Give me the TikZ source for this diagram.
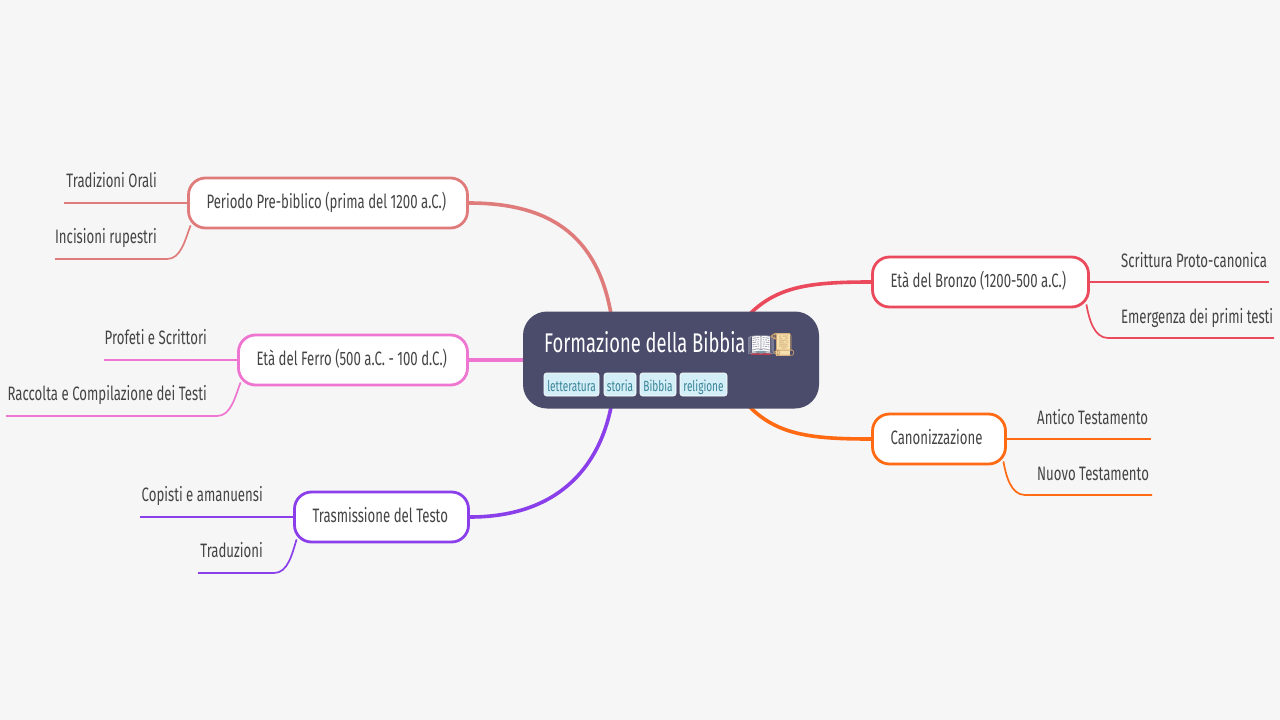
\documentclass[tikz,border=0pt]{standalone}
\usepackage{fontspec}
\setmainfont[FakeStretch=0.68]{Fira Sans}
\newfontfamily\emojifont{Noto Emoji}
\usetikzlibrary{calc}
\pgfdeclarelayer{back}
\pgfdeclarelayer{paper}
\pgfsetlayers{paper,back,main}
\definecolor{bgc}{HTML}{F6F6F6}
\definecolor{rootc}{HTML}{4B4C6B}
\definecolor{tagfill}{HTML}{D3EEF6}
\definecolor{tagtext}{HTML}{3A8499}
\definecolor{txt}{HTML}{444444}
\definecolor{cpre}{HTML}{E07B7B}
\definecolor{cfer}{HTML}{EE75D0}
\definecolor{ctra}{HTML}{8A3FEA}
\definecolor{cbro}{HTML}{EA4A5C}
\definecolor{ccan}{HTML}{FF6A13}
\definecolor{scrollf}{HTML}{F6E0AE}
\definecolor{scrolll}{HTML}{C9A06A}
\definecolor{bookl}{HTML}{8C8CA0}
\tikzset{
  branch/.style={draw=#1,line width=2.8pt,fill=white,rounded corners=17pt,inner xsep=18pt,inner ysep=0pt,align=flush left,text=txt,font=\fontsize{19.4}{22}\selectfont,text height=13pt,text depth=3pt,minimum height=50pt},
  leaf/.style={inner sep=0pt,text=txt,font=\fontsize{19.4}{22}\selectfont},
  tagbox/.style={fill=tagfill,draw=white,line width=.6pt,rounded corners=2.5pt,inner sep=0pt,text=tagtext,font=\fontsize{14.8}{16}\selectfont,text height=16pt,text depth=3pt,minimum height=23pt},
  mainl/.style={draw=#1,line width=3.6pt},
  subl/.style={draw=#1,line width=1.7pt},
  emo/.style={inner sep=0pt,font=\fontsize{22}{24}\emojifont},
}
\begin{document}
\begin{tikzpicture}[x=1pt,y=-1pt]
\useasboundingbox (0,0) rectangle (1280,720);
\begin{pgfonlayer}{paper}
\fill[bgc] (0,0) rectangle (1280,720);
\end{pgfonlayer}
% branch nodes
\node[branch=cpre,text width=243pt] (pre) at (328,203) {\mbox{Periodo Pre-biblico (prima del 1200 a.C.)}};
\node[branch=cfer,text width=193pt] (fer) at (353,360) {\mbox{Età del Ferro (500 a.C. - 100 d.C.)}};
\node[branch=ctra,text width=138pt] (tra) at (381.5,517) {\mbox{Trasmissione del Testo}};
\node[branch=cbro,text width=180pt] (bro) at (980.5,282) {\mbox{Età del Bronzo (1200-500 a.C.)}};
\node[branch=ccan,text width=97pt] (can) at (939,439) {\mbox{Canonizzazione}};
% root
\node[fill=rootc,rounded corners=24pt,minimum width=296pt,minimum height=97pt,inner sep=0pt] (root) at (671,360) {};
\node[anchor=base west,inner sep=0pt,text=white,font=\fontsize{27}{30}\selectfont] (title) at (544,352) {Formazione della Bibbia};
% emoji colour underlay
\fill[white] (752,336) rectangle (770,353);
\fill[cbro!80!black] (751,352.5) rectangle (771,355);
\fill[teal!60] (756,351) rectangle (766,352.5);
\fill[scrollf] (776,333) rectangle (790,356);
\node[emo,text=bookl] (em1) at (761,345) {📖};
\node[emo,text=scrolll] (em2) at (782.5,345) {📜};
\node[tagbox,minimum width=55pt] (t1) at (571.5,384.5) {letteratura};
\node[tagbox,minimum width=32pt] (t2) at (620,384.5) {storia};
\node[tagbox,minimum width=36pt] (t3) at (658,384.5) {Bibbia};
\node[tagbox,minimum width=47pt] (t4) at (703.5,384.5) {religione};
% leaves
\coordinate (lTra) at (64,203);
\coordinate (lInc) at (55,259);
\coordinate (lPro) at (104,360);
\coordinate (lRac) at (6,416);
\coordinate (lCop) at (140,517);
\coordinate (lTrd) at (198,573);
\coordinate (lScr) at (1269,282);
\coordinate (lEme) at (1274,338);
\coordinate (lAnt) at (1151,439);
\coordinate (lNuo) at (1152,495);
\node[leaf,anchor=base east] (n1) at (157,187.5) {Tradizioni Orali};
\node[leaf,anchor=base east] (n2) at (157,243.5) {Incisioni rupestri};
\node[leaf,anchor=base east] (n3) at (207,344.5) {Profeti e Scrittori};
\node[leaf,anchor=base east] (n4) at (207,400.5) {Raccolta e Compilazione dei Testi};
\node[leaf,anchor=base east] (n5) at (263,501.5) {Copisti e amanuensi};
\node[leaf,anchor=base east] (n6) at (263,557.5) {Traduzioni};
\node[leaf,anchor=base west] (n7) at (1121,267) {Scrittura Proto-canonica};
\node[leaf,anchor=base west] (n8) at (1121,323) {Emergenza dei primi testi};
\node[leaf,anchor=base west] (n9) at (1037,424) {Antico Testamento};
\node[leaf,anchor=base west] (n10) at (1037,480) {Nuovo Testamento};
\begin{pgfonlayer}{back}
% main connectors
\coordinate (cPreA) at (612,320);
\coordinate (cTraA) at (612,402);
\coordinate (cBroA) at (746,318);
\coordinate (cCanA) at (746,403);
\draw[mainl=cpre] (pre.east) .. controls (555,203) and (600,240) .. (cPreA);
\draw[mainl=cfer] (fer.east) -- (root);
\draw[mainl=ctra] (tra.east) .. controls (555,517) and (600,470) .. (cTraA);
\draw[mainl=cbro] (bro.west) .. controls (810,282) and (775,286) .. (cBroA);
\draw[mainl=ccan] (can.west) .. controls (810,439) and (775,435) .. (cCanA);
% sub connectors
\draw[subl=cpre] (pre.west) -- (lTra);
\draw[subl=cpre] ($(pre.south west)+(3.5,-4)$) .. controls (185,240) and (181,259) .. (167,259) -- (lInc);
\draw[subl=cfer] (fer.west) -- (lPro);
\draw[subl=cfer] ($(fer.south west)+(3.5,-4)$) .. controls (235,397) and (231,416) .. (217,416) -- (lRac);
\draw[subl=ctra] (tra.west) -- (lCop);
\draw[subl=ctra] ($(tra.south west)+(3.5,-4)$) .. controls (292,554) and (288,573) .. (274,573) -- (lTrd);
\draw[subl=cbro] (bro.east) -- (lScr);
\draw[subl=cbro] ($(bro.south east)+(-3.5,-4)$) .. controls (1089,319) and (1094,338) .. (1108,338) -- (lEme);
\draw[subl=ccan] (can.east) -- (lAnt);
\draw[subl=ccan] ($(can.south east)+(-3.5,-4)$) .. controls (1006,476) and (1011,495) .. (1025,495) -- (lNuo);
\end{pgfonlayer}
\end{tikzpicture}
\end{document}
